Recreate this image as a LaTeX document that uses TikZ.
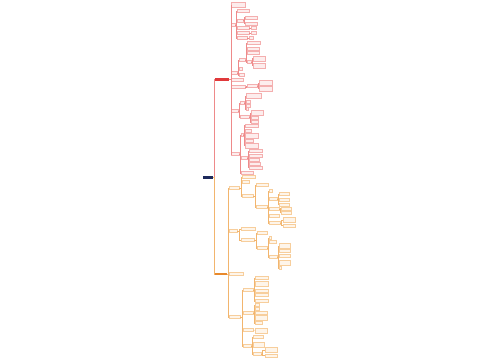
\documentclass[tikz,border=0pt]{standalone}
\usetikzlibrary{arrows.meta}

\definecolor{rootc}{HTML}{1E2A5C}
\definecolor{redc}{HTML}{E0393B}
\definecolor{redl}{HTML}{EE8A8A}
\definecolor{redb}{HTML}{F4AFAF}
\definecolor{redf}{HTML}{FDEDED}
\definecolor{orc}{HTML}{E8892B}
\definecolor{orl}{HTML}{F2B56E}
\definecolor{orb}{HTML}{F7CE9C}
\definecolor{orf}{HTML}{FEF5EA}

\begin{document}
\begin{tikzpicture}[
  x=0.5mm, y=-0.5mm,
  box/.style={inner sep=0pt, anchor=west, minimum height=1.5mm, line width=0.25pt},
  rbox/.style={box, draw=redb, fill=redf, minimum width=#1*0.5mm},
  obox/.style={box, draw=orb, fill=orf, minimum width=#1*0.5mm},
  tall/.style={minimum height=2.5mm},
  rl/.style={draw=redl, line width=0.4pt},
  ol/.style={draw=orl, line width=0.4pt},
]
  \useasboundingbox (0,0) rectangle (500,360);

  % ----- Root and the two branches -----
  \node[box, fill=rootc, minimum width=5mm, minimum height=1.3mm] (root) at (203,177.5) {};
  \node[box, fill=redc, minimum width=7mm, minimum height=1.6mm] (R) at (215,79.5) {};
  \node[box, fill=orc, minimum width=6mm, minimum height=1.3mm] (O) at (215,274) {};
  \draw[rl] (root.east) -- ++(1,0) |- (R.west);
  \draw[ol] (root.east) -- ++(1,0) |- (O.west);

  % ----- Red branch -----
  \node[rbox=14, tall] (r1) at (231,5) {};
  \node[rbox=4] (r2) at (231,25) {};
  \node[rbox=6] (r3) at (231,73) {};
  \node[rbox=12] (r4) at (231,79.5) {};
  \node[rbox=14] (r5) at (231,87) {};
  \node[rbox=7] (r6) at (231,111) {};
  \node[rbox=8] (r7) at (231,154) {};
  \foreach \c in {r1,r2,r3,r4,r5,r6,r7}
    \draw[rl] (R.east) -- ++(1.5,0) |- (\c.west);

  % r2
  \node[rbox=12] (r2a) at (237,11) {};
  \node[rbox=6] (r2b) at (237,20.5) {};
  \node[rbox=12] (r2c) at (237,28) {};
  \node[rbox=12] (r2d) at (237,33) {};
  \node[rbox=10] (r2e) at (237,38) {};
  \foreach \c in {r2a,r2b,r2c,r2d,r2e}
    \draw[rl] (r2.east) -- ++(1,0) |- (\c.west);
  \node[rbox=12] (r2b1) at (245,17.5) {};
  \node[rbox=12] (r2b2) at (245,23.5) {};
  \foreach \c in {r2b1,r2b2}
    \draw[rl] (r2b.east) -- ++(1,0) |- (\c.west);
  \node[rbox=5] (r2c1) at (251,28) {};
  \node[rbox=5] (r2d1) at (251,33) {};
  \node[rbox=4] (r2e1) at (249,38) {};
  \draw[rl] (r2c) -- (r2c1);
  \draw[rl] (r2d) -- (r2d1);
  \draw[rl] (r2e) -- (r2e1);

  % r3
  \node[rbox=6] (r3a) at (239,60) {};
  \node[rbox=3] (r3b) at (239,69) {};
  \node[rbox=5] (r3c) at (239,75) {};
  \foreach \c in {r3a,r3b,r3c}
    \draw[rl] (r3.east) -- ++(1,0) |- (\c.west);
  \node[rbox=13] (r3a1) at (247,43) {};
  \node[rbox=12] (r3a2) at (247,48.5) {};
  \node[rbox=12] (r3a3) at (247,53) {};
  \node[rbox=4] (r3a4) at (247,62) {};
  \foreach \c in {r3a1,r3a2,r3a3,r3a4}
    \draw[rl] (r3a.east) -- ++(1,0) |- (\c.west);
  \node[rbox=12, tall] (r3a4a) at (253,58.5) {};
  \node[rbox=12, tall] (r3a4b) at (253,65.5) {};
  \foreach \c in {r3a4a,r3a4b}
    \draw[rl] (r3a4.east) -- ++(1,0) |- (\c.west);

  % r5
  \node[rbox=10] (r5a) at (247,86) {};
  \draw[rl] (r5.east) -- ++(1,0) |- (r5a.west);
  \node[rbox=13, tall] (r5a1) at (259,83) {};
  \node[rbox=13, tall] (r5a2) at (259,88.5) {};
  \foreach \c in {r5a1,r5a2}
    \draw[rl] (r5a.east) -- ++(1,0) |- (\c.west);

  % r6
  \node[rbox=4] (r6a) at (240,103) {};
  \node[rbox=9] (r6b) at (240,117) {};
  \foreach \c in {r6a,r6b}
    \draw[rl] (r6.east) -- ++(1,0) |- (\c.west);
  \node[rbox=15, tall] (r6a1) at (246,96) {};
  \node[rbox=4] (r6a2) at (246,101.5) {};
  \node[rbox=4] (r6a3) at (246,105.5) {};
  \node[rbox=2] (r6a4) at (246,109) {};
  \foreach \c in {r6a1,r6a2,r6a3,r6a4}
    \draw[rl] (r6a.east) -- ++(1,0) |- (\c.west);
  \node[rbox=12, tall] (r6b1) at (251,113) {};
  \node[rbox=7] (r6b2) at (251,118) {};
  \node[rbox=7] (r6b3) at (251,122) {};
  \foreach \c in {r6b1,r6b2,r6b3}
    \draw[rl] (r6b.east) -- ++(1,0) |- (\c.west);

  % r7
  \node[rbox=2] (r7a) at (241,135) {};
  \node[rbox=6] (r7b) at (241,158) {};
  \node[rbox=12] (r7c) at (241,173) {};
  \foreach \c in {r7a,r7b,r7c}
    \draw[rl] (r7.east) -- ++(1,0) |- (\c.west);
  \node[rbox=13] (r7a1) at (245,125.5) {};
  \node[rbox=6] (r7a2) at (245,130.5) {};
  \node[rbox=13, tall] (r7a3) at (245,135.5) {};
  \node[rbox=8] (r7a4) at (245,140.5) {};
  \node[rbox=13, tall] (r7a5) at (245,145.5) {};
  \foreach \c in {r7a1,r7a2,r7a3,r7a4,r7a5}
    \draw[rl] (r7a.east) -- ++(1,0) |- (\c.west);
  \node[rbox=13] (r7b1) at (249,151) {};
  \node[rbox=13] (r7b2) at (249,155.5) {};
  \node[rbox=10] (r7b3) at (249,159.5) {};
  \node[rbox=11] (r7b4) at (249,163.5) {};
  \node[rbox=13] (r7b5) at (249,167.5) {};
  \foreach \c in {r7b1,r7b2,r7b3,r7b4,r7b5}
    \draw[rl] (r7b.east) -- ++(1,0) |- (\c.west);

  % ----- Orange branch -----
  \node[obox=10] (o1) at (229,188) {};
  \node[obox=8] (o2) at (229,231) {};
  \node[obox=14] (o3) at (229,274) {};
  \node[obox=11] (o4) at (229,317) {};
  \foreach \c in {o1,o2,o3,o4}
    \draw[ol] (O.east) -- ++(1,0) |- (\c.west);

  % o1
  \node[obox=13] (o1a) at (242,177) {};
  \node[obox=7] (o1b) at (242,182) {};
  \node[obox=11] (o1c) at (242,196) {};
  \foreach \c in {o1a,o1b,o1c}
    \draw[ol] (o1.east) -- ++(1.5,0) |- (\c.west);
  \node[obox=12] (o1c1) at (256,185) {};
  \node[obox=11] (o1c2) at (256,207) {};
  \foreach \c in {o1c1,o1c2}
    \draw[ol] (o1c.east) -- ++(1.5,0) |- (\c.west);
  \node[obox=3] (o1c2a) at (269,191) {};
  \node[obox=8] (o1c2b) at (269,199) {};
  \node[obox=10] (o1c2c) at (269,209) {};
  \node[obox=10] (o1c2d) at (269,215.5) {};
  \node[obox=11] (o1c2e) at (269,223) {};
  \foreach \c in {o1c2a,o1c2b,o1c2c,o1c2d,o1c2e}
    \draw[ol] (o1c2.east) -- ++(1,0) |- (\c.west);
  \node[obox=10] (o1c2b1) at (279,194) {};
  \node[obox=10] (o1c2b2) at (279,199.5) {};
  \node[obox=10] (o1c2b3) at (279,204.5) {};
  \foreach \c in {o1c2b1,o1c2b2,o1c2b3}
    \draw[ol] (o1c2b.east) -- ++(1,0) |- (\c.west);
  \node[obox=10] (o1c2c1) at (281,208.5) {};
  \node[obox=10] (o1c2c2) at (281,212.5) {};
  \foreach \c in {o1c2c1,o1c2c2}
    \draw[ol] (o1c2c.east) -- ++(1,0) |- (\c.west);
  \node[obox=12, tall] (o1c2e1) at (283,220) {};
  \node[obox=12] (o1c2e2) at (283,225.5) {};
  \foreach \c in {o1c2e1,o1c2e2}
    \draw[ol] (o1c2e.east) -- ++(1,0) |- (\c.west);

  % o2
  \node[obox=14] (o2a) at (241,229) {};
  \node[obox=13] (o2b) at (241,240) {};
  \foreach \c in {o2a,o2b}
    \draw[ol] (o2.east) -- ++(1.5,0) |- (\c.west);
  \node[obox=10] (o2b1) at (257,233) {};
  \node[obox=10] (o2b2) at (257,248) {};
  \foreach \c in {o2b1,o2b2}
    \draw[ol] (o2b.east) -- ++(1.5,0) |- (\c.west);
  \node[obox=2] (o2b2a) at (269,238) {};
  \node[obox=7] (o2b2b) at (269,242) {};
  \node[obox=8] (o2b2c) at (269,257) {};
  \foreach \c in {o2b2a,o2b2b,o2b2c}
    \draw[ol] (o2b2.east) -- ++(1,0) |- (\c.west);
  \node[obox=11, tall] (o2b2c1) at (279,246) {};
  \node[obox=11] (o2b2c2) at (279,251) {};
  \node[obox=11] (o2b2c3) at (279,256) {};
  \node[obox=11, tall] (o2b2c4) at (279,262.5) {};
  \node[obox=2] (o2b2c5) at (279,268) {};
  \foreach \c in {o2b2c1,o2b2c2,o2b2c3,o2b2c4,o2b2c5}
    \draw[ol] (o2b2c.east) -- ++(1,0) |- (\c.west);

  % o4
  \node[obox=10] (o4a) at (243,290) {};
  \node[obox=10] (o4b) at (243,313) {};
  \node[obox=10] (o4c) at (243,330) {};
  \node[obox=8] (o4d) at (243,346) {};
  \foreach \c in {o4a,o4b,o4c,o4d}
    \draw[ol] (o4.east) -- ++(1.5,0) |- (\c.west);
  \node[obox=13] (o4a1) at (255,278) {};
  \node[obox=13, tall] (o4a2) at (255,284) {};
  \node[obox=13] (o4a3) at (255,290.5) {};
  \node[obox=13] (o4a4) at (255,295) {};
  \node[obox=13] (o4a5) at (255,301) {};
  \foreach \c in {o4a1,o4a2,o4a3,o4a4,o4a5}
    \draw[ol] (o4a.east) -- ++(1,0) |- (\c.west);
  \node[obox=4] (o4b1) at (255,305) {};
  \node[obox=4] (o4b2) at (255,309) {};
  \node[obox=12] (o4b3) at (255,313) {};
  \node[obox=12, tall] (o4b4) at (255,318) {};
  \node[obox=7] (o4b5) at (255,323) {};
  \foreach \c in {o4b1,o4b2,o4b3,o4b4,o4b5}
    \draw[ol] (o4b.east) -- ++(1,0) |- (\c.west);
  \node[obox=12, tall] (o4c1) at (255,330.5) {};
  \draw[ol] (o4c) -- (o4c1);
  \node[obox=10] (o4d1) at (253,337) {};
  \node[obox=11, tall] (o4d2) at (253,345) {};
  \node[obox=8] (o4d3) at (253,354) {};
  \foreach \c in {o4d1,o4d2,o4d3}
    \draw[ol] (o4d.east) -- ++(1,0) |- (\c.west);
  \node[obox=12, tall] (o4d3a) at (265,350) {};
  \node[obox=12] (o4d3b) at (265,355.5) {};
  \foreach \c in {o4d3a,o4d3b}
    \draw[ol] (o4d3.east) -- ++(1,0) |- (\c.west);
\end{tikzpicture}
\end{document}
